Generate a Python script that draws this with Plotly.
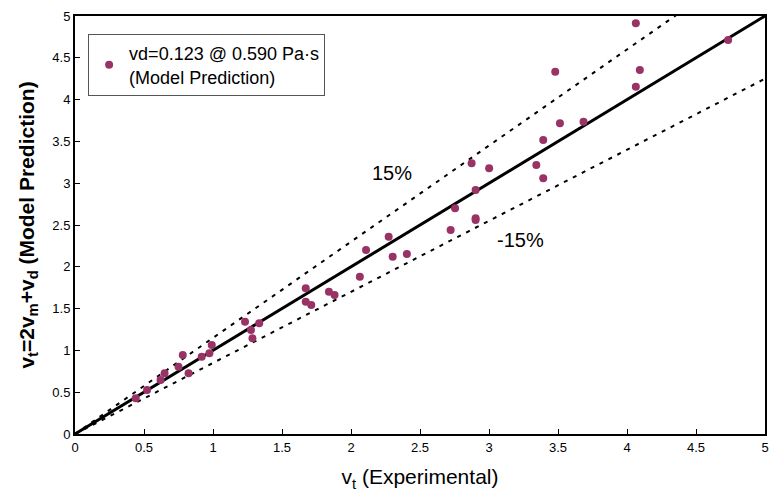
import plotly.graph_objects as go

# Data (v_t experimental vs model prediction)
x_exp = [4.064, 4.733, 3.480, 4.093, 4.064, 3.514, 3.685, 3.393, 2.874, 3.001,
         3.343, 3.393, 2.903, 2.754, 2.903, 2.903, 2.722, 2.273, 2.109, 2.302,
         2.405, 2.064, 1.672, 1.840, 1.881, 1.672, 1.712, 1.232, 1.335, 1.275,
         1.286, 0.991, 0.974, 0.918, 0.781, 0.750, 0.823, 0.649, 0.620, 0.522,
         0.440]
y_model = [4.913, 4.713, 4.334, 4.354, 4.154, 3.716, 3.736, 3.517, 3.238, 3.178,
           3.218, 3.059, 2.919, 2.700, 2.580, 2.560, 2.440, 2.360, 2.201, 2.121,
           2.153, 1.882, 1.743, 1.702, 1.663, 1.583, 1.543, 1.343, 1.324, 1.244,
           1.145, 1.065, 0.965, 0.925, 0.945, 0.805, 0.726, 0.726, 0.646, 0.526,
           0.427]
line_x = [0, 5]
upper_factor = 1.15
lower_factor = 0.85
tick_vals = [0, 0.5, 1, 1.5, 2, 2.5, 3, 3.5, 4, 4.5, 5]
tick_text = ["0", "0.5", "1", "1.5", "2", "2.5", "3", "3.5", "4", "4.5", "5"]

FONT = "Liberation Sans, Arial, sans-serif"

fig = go.Figure()
fig.add_trace(go.Scatter(x=line_x, y=[v * upper_factor for v in line_x], mode="lines",
                         line=dict(color="black", width=2, dash="4px,6px"),
                         showlegend=False, hoverinfo="skip"))
fig.add_trace(go.Scatter(x=line_x, y=[v * lower_factor for v in line_x], mode="lines",
                         line=dict(color="black", width=2, dash="4px,6px"),
                         showlegend=False, hoverinfo="skip"))
fig.add_trace(go.Scatter(x=line_x, y=line_x, mode="lines",
                         line=dict(color="black", width=3),
                         showlegend=False, hoverinfo="skip"))
fig.add_trace(go.Scatter(x=x_exp, y=y_model, mode="markers",
                         marker=dict(color="#993366", size=8),
                         name="vd=0.123 @ 0.590 Pa·s<br>(Model Prediction)"))

fig.add_annotation(x=2.3, y=3.12, text="15%", showarrow=False,
                   font=dict(family=FONT, size=20, color="black"))
fig.add_annotation(x=3.23, y=2.32, text="-15%", showarrow=False,
                   font=dict(family=FONT, size=20, color="black"))

axis_common = dict(range=[0, 5], tickvals=tick_vals, ticktext=tick_text,
                   ticks="inside", ticklen=5, tickcolor="black", tickwidth=1,
                   showgrid=False, zeroline=False, showline=True, linecolor="black",
                   linewidth=2, mirror=True,
                   tickfont=dict(family=FONT, size=13, color="black"))

fig.update_layout(
    width=773, height=499,
    margin=dict(l=75, r=4, t=16, b=65),
    paper_bgcolor="white", plot_bgcolor="white",
    font=dict(family=FONT, color="black"),
    xaxis=dict(**axis_common,
               title=dict(text="v<sub>t</sub> (Experimental)",
                          font=dict(family=FONT, size=21, color="black"), standoff=16)),
    yaxis=dict(**axis_common,
               title=dict(text="<b>v<sub>t</sub>=2v<sub>m</sub>+v<sub>d</sub> (Model Prediction)</b>",
                          font=dict(family=FONT, size=21, color="black"), standoff=12)),
    legend=dict(x=0.019, y=0.957, xanchor="left", yanchor="top",
                bgcolor="white", bordercolor="#555555", borderwidth=1,
                font=dict(family=FONT, size=18, color="black"),
                itemwidth=30, tracegroupgap=0),
)

fig.write_html("out.html")
